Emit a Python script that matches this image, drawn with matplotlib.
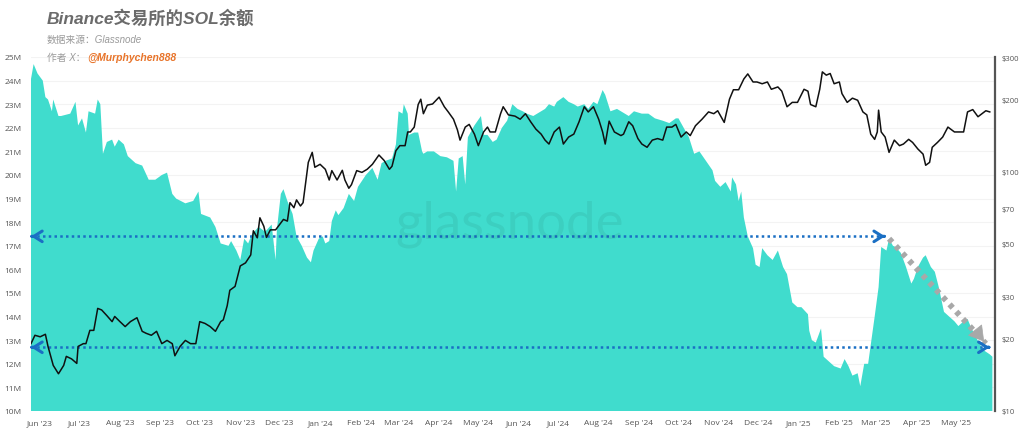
import pandas as pd
import matplotlib
matplotlib.use("Agg")
import matplotlib.pyplot as plt
import matplotlib.dates as mdates
from matplotlib.ticker import FixedLocator, NullLocator, FuncFormatter

# SOL balance on Binance (millions of SOL)
balance_dates = [
    "2023-05-25", "2023-05-27", "2023-05-30", "2023-06-03", "2023-06-05", "2023-06-07",
    "2023-06-10", "2023-06-11", "2023-06-15", "2023-06-17", "2023-06-24", "2023-06-28",
    "2023-06-30", "2023-07-03", "2023-07-06", "2023-07-08", "2023-07-13", "2023-07-15",
    "2023-07-17", "2023-07-19", "2023-07-22", "2023-07-26", "2023-07-28", "2023-07-31",
    "2023-08-04", "2023-08-07", "2023-08-13", "2023-08-18", "2023-08-23", "2023-08-28",
    "2023-09-02", "2023-09-06", "2023-09-10", "2023-09-13", "2023-09-20", "2023-09-26",
    "2023-09-30", "2023-10-02", "2023-10-09", "2023-10-13", "2023-10-17", "2023-10-23",
    "2023-10-25", "2023-10-29", "2023-11-01", "2023-11-04", "2023-11-07", "2023-11-10",
    "2023-11-15", "2023-11-20", "2023-11-25", "2023-11-28", "2023-11-29", "2023-12-02",
    "2023-12-04", "2023-12-07", "2023-12-11", "2023-12-14", "2023-12-18", "2023-12-22",
    "2023-12-25", "2023-12-27", "2023-12-31", "2024-01-03", "2024-01-05", "2024-01-08",
    "2024-01-10", "2024-01-13", "2024-01-15", "2024-01-19", "2024-01-23", "2024-01-27",
    "2024-01-30", "2024-02-05", "2024-02-10", "2024-02-14", "2024-02-17", "2024-02-20",
    "2024-02-25", "2024-02-28", "2024-03-01", "2024-03-04", "2024-03-05", "2024-03-08",
    "2024-03-09", "2024-03-13", "2024-03-16", "2024-03-19", "2024-03-20", "2024-03-23",
    "2024-03-28", "2024-04-02", "2024-04-07", "2024-04-12", "2024-04-14", "2024-04-16",
    "2024-04-19", "2024-04-21", "2024-04-23", "2024-04-28", "2024-05-03", "2024-05-05",
    "2024-05-08", "2024-05-12", "2024-05-15", "2024-05-19", "2024-05-23", "2024-05-27",
    "2024-05-31", "2024-06-04", "2024-06-07", "2024-06-12", "2024-06-18", "2024-06-21",
    "2024-06-24", "2024-06-28", "2024-06-30", "2024-07-05", "2024-07-09", "2024-07-13",
    "2024-07-16", "2024-07-21", "2024-07-24", "2024-07-28", "2024-07-31", "2024-08-04",
    "2024-08-06", "2024-08-10", "2024-08-15", "2024-08-18", "2024-08-24", "2024-08-28",
    "2024-09-03", "2024-09-08", "2024-09-13", "2024-09-19", "2024-09-24", "2024-09-29",
    "2024-10-01", "2024-10-04", "2024-10-09", "2024-10-13", "2024-10-17", "2024-10-22",
    "2024-10-27", "2024-10-29", "2024-11-02", "2024-11-06", "2024-11-10", "2024-11-11",
    "2024-11-14", "2024-11-16", "2024-11-18", "2024-11-20", "2024-11-23", "2024-11-27",
    "2024-11-29", "2024-12-02", "2024-12-04", "2024-12-08", "2024-12-12", "2024-12-16",
    "2024-12-20", "2024-12-23", "2024-12-27", "2024-12-31", "2025-01-03", "2025-01-08",
    "2025-01-09", "2025-01-11", "2025-01-14", "2025-01-18", "2025-01-20", "2025-01-24",
    "2025-01-28", "2025-02-02", "2025-02-05", "2025-02-08", "2025-02-11", "2025-02-15",
    "2025-02-17", "2025-02-20", "2025-02-23", "2025-02-25", "2025-02-28", "2025-03-03",
    "2025-03-05", "2025-03-09", "2025-03-11", "2025-03-14", "2025-03-16", "2025-03-20",
    "2025-03-24", "2025-03-28", "2025-03-30", "2025-04-02", "2025-04-06", "2025-04-08",
    "2025-04-12", "2025-04-15", "2025-04-18", "2025-04-22", "2025-04-26", "2025-04-30",
    "2025-05-03", "2025-05-07", "2025-05-10", "2025-05-13", "2025-05-15", "2025-05-19",
    "2025-05-23", "2025-05-27", "2025-05-29",
]
balance_values = [
    24.07, 24.7, 24.3, 24.0, 23.3, 23.2,
    22.7, 23.2, 22.5, 22.5, 22.6, 23.1,
    22.1, 22.4, 21.8, 22.7, 22.6, 23.2,
    23.0, 20.9, 21.4, 21.5, 21.2, 21.5,
    21.3, 20.8, 20.5, 20.4, 19.8, 19.8,
    20.0, 20.1, 19.2, 19.0, 18.8, 18.9,
    19.3, 18.35, 18.2, 17.8, 17.1, 17.0,
    17.2, 16.8, 16.4, 17.3, 17.1, 17.5,
    17.8, 17.6, 17.9, 16.4, 17.7, 19.2,
    19.4, 18.9, 18.35, 17.4, 17.0, 16.5,
    16.3, 16.8, 17.3, 17.4, 17.1, 17.2,
    18.05, 18.5, 18.3, 18.6, 19.2, 18.9,
    19.5, 20.0, 20.3, 19.8, 20.5, 20.6,
    20.7, 21.3, 22.7, 22.6, 23.0, 22.6,
    21.7, 21.8, 21.8, 21.0, 20.9, 21.0,
    21.0, 20.8, 20.75, 20.6, 19.3, 20.7,
    20.8, 19.6, 21.6, 22.1, 22.5, 21.7,
    21.7, 21.4, 21.5, 22.0, 22.3, 23.0,
    22.8, 22.7, 22.6, 22.5, 22.7, 22.8,
    23.0, 22.9, 23.1, 23.3, 23.1, 23.0,
    22.9, 23.0, 22.8, 23.1, 23.0, 23.6,
    23.4, 22.7, 22.8, 22.7, 22.5, 22.7,
    22.6, 22.6, 22.4, 22.3, 22.2, 22.4,
    22.4, 22.1, 21.6, 20.9, 21.0, 20.6,
    20.2, 19.75, 19.5, 19.7, 19.3, 19.9,
    19.6, 18.9, 19.3, 18.2, 17.4, 16.9,
    16.2, 16.1, 16.9, 16.6, 16.4, 16.8,
    16.1, 15.8, 14.6, 14.4, 14.4, 14.1,
    13.4, 13.0, 12.9, 13.5, 12.3, 12.1,
    11.9, 11.8, 12.2, 11.9, 11.5, 11.6,
    11.05, 12.0, 12.0, 12.8, 14.0, 15.25,
    16.95, 16.8, 17.3, 17.0, 16.95, 16.7,
    16.1, 15.4, 15.6, 16.1, 16.5, 16.6,
    16.1, 15.9, 15.25, 14.2, 14.0, 13.8,
    13.6, 13.8, 13.9, 13.5, 13.3, 12.85,
    12.55, 12.4, 12.3,
]

# SOL price (USD)
price_dates = [
    "2023-05-25", "2023-05-28", "2023-06-01", "2023-06-05", "2023-06-07", "2023-06-11",
    "2023-06-15", "2023-06-19", "2023-06-21", "2023-06-25", "2023-06-29", "2023-06-30",
    "2023-07-04", "2023-07-06", "2023-07-09", "2023-07-12", "2023-07-15", "2023-07-18",
    "2023-07-22", "2023-07-26", "2023-07-28", "2023-08-01", "2023-08-05", "2023-08-09",
    "2023-08-14", "2023-08-18", "2023-08-21", "2023-08-25", "2023-08-29", "2023-09-02",
    "2023-09-06", "2023-09-10", "2023-09-12", "2023-09-16", "2023-09-20", "2023-09-24",
    "2023-09-28", "2023-10-01", "2023-10-05", "2023-10-09", "2023-10-13", "2023-10-17",
    "2023-10-19", "2023-10-22", "2023-10-24", "2023-10-28", "2023-11-01", "2023-11-05",
    "2023-11-09", "2023-11-11", "2023-11-14", "2023-11-16", "2023-11-19", "2023-11-21",
    "2023-11-24", "2023-11-28", "2023-12-02", "2023-12-04", "2023-12-07", "2023-12-09",
    "2023-12-12", "2023-12-14", "2023-12-17", "2023-12-19", "2023-12-23", "2023-12-26",
    "2023-12-28", "2024-01-01", "2024-01-05", "2024-01-08", "2024-01-10", "2024-01-14",
    "2024-01-18", "2024-01-20", "2024-01-23", "2024-01-25", "2024-01-29", "2024-02-02",
    "2024-02-06", "2024-02-10", "2024-02-15", "2024-02-19", "2024-02-23", "2024-02-25",
    "2024-02-28", "2024-03-02", "2024-03-06", "2024-03-08", "2024-03-10", "2024-03-13",
    "2024-03-16", "2024-03-18", "2024-03-20", "2024-03-23", "2024-03-27", "2024-04-01",
    "2024-04-05", "2024-04-08", "2024-04-12", "2024-04-15", "2024-04-17", "2024-04-21",
    "2024-04-24", "2024-04-28", "2024-05-01", "2024-05-05", "2024-05-08", "2024-05-10",
    "2024-05-14", "2024-05-18", "2024-05-20", "2024-05-24", "2024-05-29", "2024-06-02",
    "2024-06-06", "2024-06-10", "2024-06-14", "2024-06-18", "2024-06-21", "2024-06-24",
    "2024-06-28", "2024-07-02", "2024-07-05", "2024-07-09", "2024-07-13", "2024-07-17",
    "2024-07-21", "2024-07-24", "2024-07-28", "2024-08-01", "2024-08-04", "2024-08-06",
    "2024-08-09", "2024-08-13", "2024-08-18", "2024-08-20", "2024-08-24", "2024-08-27",
    "2024-08-31", "2024-09-03", "2024-09-07", "2024-09-11", "2024-09-15", "2024-09-19",
    "2024-09-22", "2024-09-26", "2024-09-29", "2024-10-03", "2024-10-07", "2024-10-10",
    "2024-10-14", "2024-10-19", "2024-10-24", "2024-10-28", "2024-10-31", "2024-11-05",
    "2024-11-09", "2024-11-12", "2024-11-16", "2024-11-20", "2024-11-23", "2024-11-27",
    "2024-11-30", "2024-12-04", "2024-12-08", "2024-12-11", "2024-12-16", "2024-12-19",
    "2024-12-23", "2024-12-27", "2024-12-31", "2025-01-05", "2025-01-08", "2025-01-10",
    "2025-01-14", "2025-01-17", "2025-01-19", "2025-01-22", "2025-01-25", "2025-01-28",
    "2025-02-01", "2025-02-03", "2025-02-07", "2025-02-11", "2025-02-15", "2025-02-19",
    "2025-02-22", "2025-02-25", "2025-02-28", "2025-03-02", "2025-03-03", "2025-03-05",
    "2025-03-08", "2025-03-11", "2025-03-15", "2025-03-19", "2025-03-22", "2025-03-26",
    "2025-03-29", "2025-04-02", "2025-04-06", "2025-04-08", "2025-04-11", "2025-04-13",
    "2025-04-17", "2025-04-21", "2025-04-25", "2025-04-30", "2025-05-03", "2025-05-07",
    "2025-05-10", "2025-05-14", "2025-05-18", "2025-05-21", "2025-05-24", "2025-05-27",
]
price_values = [
    19.1, 20.7, 20.4, 20.9, 18.6, 15.5,
    14.3, 15.5, 16.9, 16.5, 15.8, 18.6,
    19.1, 19.1, 21.7, 21.7, 26.8, 26.4,
    25.0, 23.6, 24.8, 23.6, 22.5, 23.6,
    24.5, 21.5, 21.1, 20.7, 21.5, 19.1,
    19.7, 19.1, 17.0, 18.6, 19.7, 19.1,
    19.1, 23.6, 23.2, 22.5, 21.5, 23.6,
    24.0, 27.5, 31.9, 33.1, 40.3, 41.5,
    44.8, 56.5, 52.8, 64, 59, 53,
    57, 57, 61, 63, 62, 74,
    70.5, 76, 71.7, 74, 109, 120,
    104, 107, 102, 92, 100.7, 92,
    101, 92, 85, 88, 100.7, 99,
    102, 107, 117, 111, 102, 105,
    122, 128, 128, 146, 146, 153,
    190, 200, 174, 189, 191, 204,
    186, 177, 165, 149, 135, 153,
    157, 143, 128, 146, 153, 146,
    146, 174, 186, 172, 170, 165,
    174, 161, 150, 143, 135, 130,
    146, 153, 130, 139, 143, 161,
    186, 177, 186, 165, 146, 130,
    162, 146, 141, 143, 161, 155,
    137, 130, 126, 135, 137, 135,
    153, 153, 157, 139, 146, 141,
    155, 165, 177, 174, 179, 160,
    200, 219, 219, 243, 255, 236,
    236, 232, 236, 220, 225, 216,
    186, 194, 194, 220, 216, 190,
    186, 220, 260, 252, 256, 232,
    236, 211, 194, 202, 198, 177,
    172, 143, 136, 146, 180, 146,
    139, 120, 135, 128, 130, 136,
    132, 124, 118, 106, 109, 126,
    132, 139, 153, 146, 146, 146,
    177, 181, 169, 174, 179, 177,
]

balance_ticks = list(range(10, 26))
price_ticks = [10, 20, 30, 50, 70, 100, 200, 300]

# annotation levels (balance, M) and dates
level_high = 17.4
level_low = 12.7
arrow_start = "2023-05-25"
arrow_high_end = "2025-03-08"
arrow_low_end = "2025-05-27"
trend_start = ("2025-03-11", 17.3)
trend_end = ("2025-05-24", 12.85)

teal = "#40dccd"
blue = "#1a6fc4"
gray = "#a8a8a8"
label_color = "#555555"
tick_font = "Open Sans"
cjk = ["Liberation Sans", "Noto Sans CJK SC"]

bd = pd.to_datetime(balance_dates)
pdt = pd.to_datetime(price_dates)

fig = plt.figure(figsize=(10.24, 4.39), dpi=100)
ax = fig.add_axes([31 / 1024, 1 - 412 / 439, 964 / 1024, 354 / 439])
ax.set_zorder(1)

ax.fill_between(bd, 0, balance_values, color=teal, linewidth=0, zorder=2)
ax.set_ylim(10, 25)
ax.set_xlim(pd.Timestamp("2023-05-25"), pd.Timestamp("2025-05-31"))
ax.yaxis.set_major_locator(FixedLocator(balance_ticks))
ax.yaxis.set_major_formatter(FuncFormatter(lambda v, p: f"{int(v)}M"))
ax.grid(axis="y", color="#f3f3f3", linewidth=0.8, zorder=0)
ax.set_axisbelow(True)

months = pd.date_range("2023-06-01", "2025-05-01", freq="MS")
ax.set_xticks(months)
ax.xaxis.set_major_formatter(mdates.DateFormatter("%b '%y"))
ax.tick_params(axis="both", length=0, labelsize=6, labelcolor=label_color)
ax.tick_params(axis="y", pad=7)
ax.tick_params(axis="x", pad=6)
for lab in ax.get_xticklabels() + ax.get_yticklabels():
    lab.set_fontfamily(tick_font)
for s in ax.spines.values():
    s.set_visible(False)

# dotted arrows showing the two balance levels
def dotted_level(x0, x1, y):
    x0, x1 = pd.Timestamp(x0), pd.Timestamp(x1)
    ax.plot([x0, x1], [y, y], color=blue, lw=1.8, ls=(0, (1, 1.3)), zorder=4)
    d = pd.Timedelta(days=3)
    for tip, tail in [(x0, x0 + d), (x1, x1 - d)]:
        ax.annotate("", xy=(tip, y), xytext=(tail, y),
                    arrowprops=dict(arrowstyle="->,head_length=0.6,head_width=0.38",
                                    color=blue, lw=2.2), zorder=5)

dotted_level(arrow_start, arrow_high_end, level_high)
dotted_level(arrow_start, arrow_low_end, level_low)

# grey dotted trend arrow
t0 = (pd.Timestamp(trend_start[0]), trend_start[1])
t1 = (pd.Timestamp(trend_end[0]), trend_end[1])
ax.plot([t0[0], t1[0]], [t0[1], t1[1]], color=gray, lw=4.2,
        ls=(0, (0.8, 0.9)), solid_capstyle="butt", dash_capstyle="butt", zorder=4)
ax.annotate("", xy=t1, xytext=(t1[0] - pd.Timedelta(days=4), t1[1] + 0.28),
            arrowprops=dict(arrowstyle="-|>,head_length=1.0,head_width=0.6",
                            color=gray, lw=0.5), zorder=5)

# price on log axis
ax2 = ax.twinx()
ax2.set_zorder(2)
ax2.patch.set_visible(False)
ax2.plot(pdt, price_values, color="#111111", lw=1.1)
ax2.set_yscale("log")
ax2.set_ylim(10, 300)
ax2.yaxis.set_major_locator(FixedLocator(price_ticks))
ax2.yaxis.set_minor_locator(NullLocator())
ax2.yaxis.set_major_formatter(FuncFormatter(lambda v, p: f"${int(v)}"))
ax2.tick_params(axis="y", length=0, labelsize=5.5, labelcolor=label_color, pad=5)
for lab in ax2.get_yticklabels():
    lab.set_fontfamily(tick_font)
for name, s in ax2.spines.items():
    s.set_visible(name == "right")
ax2.spines["right"].set_color("#555555")
ax2.spines["right"].set_linewidth(1.6)

# watermark
ax2.text(0.497, 0.53, "glassnode", transform=ax2.transAxes, ha="center", va="center",
         fontsize=38, fontfamily="Lato", color="#000000", alpha=0.06, zorder=0)

# titles
fig.text(47 / 1024, 1 - 18 / 439, "Binance交易所的SOL余额", fontsize=12.5,
         fontweight="bold", fontstyle="italic", family=cjk, color="#6b6b6b", va="center")
fig.text(47 / 1024, 1 - 40 / 439, "数据来源：Glassnode", fontsize=7,
         fontstyle="italic", family=cjk, color="#9a9a9a", va="center")
fig.text(47 / 1024, 1 - 58 / 439, "作者 X：", fontsize=7,
         fontstyle="italic", family=cjk, color="#9a9a9a", va="center")
fig.text(87 / 1024, 1 - 58 / 439, "@Murphychen888", fontsize=7.5, fontweight="bold",
         fontstyle="italic", family=cjk, color="#e8742a", va="center")

fig.savefig("out.png", dpi=100)
